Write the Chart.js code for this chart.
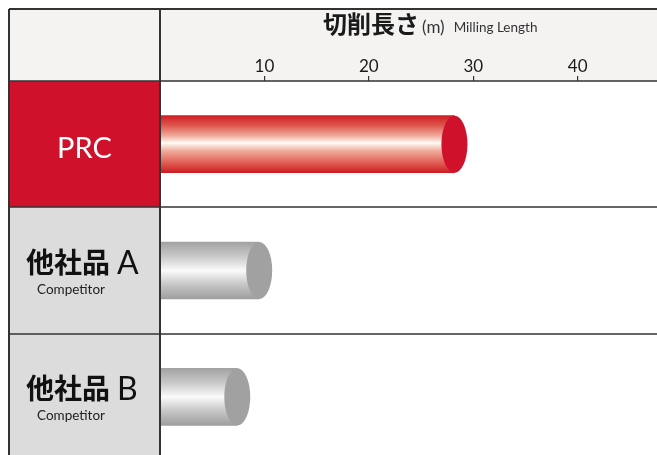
<!DOCTYPE html>
<html><head><meta charset="utf-8">
<script src="https://cdn.jsdelivr.net/npm/chart.js@4"></script>
<style>
html,body{margin:0;padding:0;background:#fff;overflow:hidden;}
#wrap{position:relative;width:657px;height:460px;}
</style></head>
<body><div id="wrap"><canvas id="c" width="657" height="460"></canvas></div>
<script>
const categories = ['PRC', '他社品A', '他社品B'];
const mainLabels = ['PRC', '他社品', '他社品'];
const suffixLabels = ['', 'A', 'B'];
const subLabels = ['', 'Competitor', 'Competitor'];
const millingLength = [28.2, 9.5, 7.4];
const tickValues = [10, 20, 30, 40];
const axisMax = 47.6;

const RED = '#D0112B';
const GRAY_CELL = '#DCDCDC';
const HEAD_BG = '#F4F3F2';
const LINE = '#333333';
const BAR_H = 57;

function barGradient(ctx, top, h, isRed) {
  const g = ctx.createLinearGradient(0, top, 0, top + h);
  if (isRed) {
    g.addColorStop(0, 'rgb(208,28,36)');
    g.addColorStop(0.18, 'rgb(222,90,80)');
    g.addColorStop(0.36, 'rgb(240,175,160)');
    g.addColorStop(0.48, 'rgb(255,250,246)');
    g.addColorStop(0.62, 'rgb(240,170,155)');
    g.addColorStop(0.85, 'rgb(222,85,75)');
    g.addColorStop(1, 'rgb(205,28,36)');
  } else {
    g.addColorStop(0, 'rgb(162,162,162)');
    g.addColorStop(0.25, 'rgb(200,200,200)');
    g.addColorStop(0.5, 'rgb(250,250,250)');
    g.addColorStop(0.75, 'rgb(198,198,198)');
    g.addColorStop(1, 'rgb(158,158,158)');
  }
  return g;
}

const framePlugin = {
  id: 'frame',
  beforeDraw(chart) {
    const c = chart.ctx, ca = chart.chartArea, y = chart.scales.y;
    c.save();
    c.fillStyle = HEAD_BG;
    c.fillRect(9, 9, chart.width - 9, ca.top - 9);
    for (let i = 0; i < categories.length; i++) {
      const yc = y.getPixelForValue(i);
      const half = (ca.bottom - ca.top) / categories.length / 2;
      c.fillStyle = i === 0 ? RED : GRAY_CELL;
      c.fillRect(9, yc - half, ca.left - 9, half * 2);
    }
    c.restore();
  },
  afterDatasetsDraw(chart) {
    const c = chart.ctx;
    const meta = chart.getDatasetMeta(0);
    c.save();
    meta.data.forEach((el, i) => {
      c.beginPath();
      c.ellipse(el.x, el.y, 13, el.height / 2, 0, 0, Math.PI * 2);
      c.fillStyle = i === 0 ? RED : 'rgb(160,161,160)';
      c.fill();
    });
    c.restore();
  },
  afterDraw(chart) {
    const c = chart.ctx, ca = chart.chartArea, y = chart.scales.y;
    const W = chart.width;
    c.save();
    c.strokeStyle = LINE;
    c.lineWidth = 2;
    c.beginPath();
    c.moveTo(9, 9); c.lineTo(W, 9);
    c.moveTo(9, 9); c.lineTo(9, chart.height);
    c.moveTo(ca.left, 9); c.lineTo(ca.left, chart.height);
    c.stroke();
    c.lineWidth = 1.5;
    c.beginPath();
    const rowH = (ca.bottom - ca.top) / categories.length;
    for (let i = 0; i < categories.length; i++) {
      const yt = Math.round(y.getPixelForValue(i) - rowH / 2);
      c.moveTo(9, yt); c.lineTo(W, yt);
    }
    c.stroke();
    // header title
    c.fillStyle = '#1a1a1a';
    c.textBaseline = 'alphabetic';
    c.textAlign = 'left';
    let x = 323;
    c.font = 'bold 24px "Noto Sans CJK JP"';
    c.fillText('切削長さ', x, 33);
    x += c.measureText('切削長さ').width + 3;
    c.font = '17px Lato, "Noto Sans"';
    c.fillStyle = '#333';
    c.fillText('(m)', x, 33);
    x += c.measureText('(m)').width + 9;
    c.font = '13.5px Lato, "Noto Sans"';
    c.fillText('Milling Length', x, 32);
    // row labels
    for (let i = 0; i < categories.length; i++) {
      const yc = y.getPixelForValue(i);
      const cx = (9 + ca.left) / 2;
      if (i === 0) {
        c.fillStyle = '#ffffff';
        c.font = '29px Lato, "Noto Sans"';
        c.textAlign = 'center';
        c.textBaseline = 'alphabetic';
        c.fillText(mainLabels[i], cx, yc + 14);
      } else {
        c.fillStyle = '#111111';
        c.textBaseline = 'alphabetic';
        c.textAlign = 'left';
        c.font = 'bold 28px "Noto Sans CJK JP"';
        const w1 = c.measureText(mainLabels[i]).width;
        const sx = 26;
        c.fillText(mainLabels[i], sx, yc + 2);
        c.font = '32px Lato, "Noto Sans"';
        c.fillText(suffixLabels[i], sx + w1 + 7, yc + 3);
        c.font = '13.5px Lato, "Noto Sans"';
        c.fillStyle = '#222';
        c.fillText(subLabels[i], 37, yc + 23);
      }
    }
    c.restore();
  }
};

new Chart(document.getElementById('c'), {
  type: 'bar',
  data: {
    labels: categories,
    datasets: [{
      data: millingLength,
      barThickness: BAR_H,
      borderWidth: 0,
      backgroundColor: (context) => {
        const chart = context.chart;
        if (!chart.chartArea || !chart.scales.y) return 'rgba(0,0,0,0)';
        const yc = chart.scales.y.getPixelForValue(context.dataIndex);
        return barGradient(chart.ctx, yc - BAR_H / 2, BAR_H, context.dataIndex === 0);
      }
    }]
  },
  options: {
    indexAxis: 'y',
    responsive: false,
    animation: false,
    devicePixelRatio: 1,
    layout: { padding: { left: 160, top: 9, right: 0, bottom: 0 } },
    plugins: { legend: { display: false }, tooltip: { enabled: false } },
    scales: {
      x: {
        position: 'top',
        min: 0,
        max: axisMax,
        afterFit: (s) => { s.height = 72; },
        afterBuildTicks: (s) => { s.ticks = tickValues.map(v => ({ value: v })); },
        border: { display: false },
        grid: { drawOnChartArea: false, tickLength: 5, tickColor: '#333', lineWidth: 1.2 },
        ticks: { color: '#1a1a1a', font: { family: 'Lato, "Noto Sans"', size: 17 }, padding: -1, maxRotation: 0 }
      },
      y: { display: false }
    }
  },
  plugins: [framePlugin]
});
</script></body></html>
